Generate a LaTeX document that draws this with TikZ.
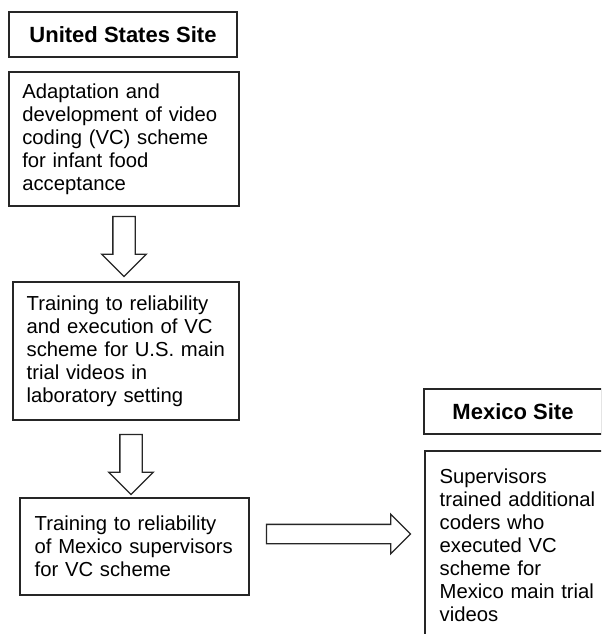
\documentclass[tikz,border=0pt]{standalone}
\usepackage{fontspec}
\setmainfont{Liberation Sans}
\usetikzlibrary{calc,shapes.arrows,positioning}
\frenchspacing

\begin{document}
\begin{tikzpicture}[
    x=0.75pt, y=-0.75pt,
    box/.style={draw=black!85, line width=1.2pt, align=left, inner xsep=10.25pt, inner ysep=0pt,
                font=\fontsize{15.2pt}{17.2pt}\selectfont},
    sitebox/.style={draw=black!85, line width=1.2pt, align=center, minimum height=33.75pt,
                font=\fontsize{16.5pt}{19pt}\selectfont\bfseries},
    downarr/.style={single arrow, draw=black!85, line width=1pt, fill=white, rotate=-90, anchor=tail,
                inner sep=0pt, inner ysep=7.875pt, single arrow head extend=8.25pt, minimum height=45pt},
    sidearr/.style={single arrow, draw=black!85, line width=1pt, fill=white, anchor=tail,
                inner sep=0pt, inner ysep=6.75pt, single arrow head extend=7.5pt, minimum height=108pt}
]
\useasboundingbox[fill=white] (0,0) rectangle (601,634);
\clip (0,0) rectangle (601,634);

% United States site
\node[sitebox, minimum width=171pt] (ussite) at (123,34.5) {United States Site};
\node[box, inner xsep=10pt, text width=152.5pt, minimum width=172.5pt, minimum height=100.5pt] (adapt) at (124,139)
    {Adaptation and\\development of video\\coding (VC) scheme\\for infant food\\acceptance};
\node[box, text width=149pt, minimum width=169.5pt, minimum height=103.5pt] (train) at (126,351)
    {Training to reliability\\and execution of VC\\scheme for U.S. main\\trial videos in\\laboratory setting};
\node[box, inner xsep=11pt, text width=149.75pt, minimum width=171.75pt, minimum height=72.75pt] (super) at (134.5,546.5)
    {Training to reliability\\of Mexico supervisors\\for VC scheme};

% Mexico site
\node[sitebox, minimum width=133.5pt] (mxsite) at (513,411.5) {Mexico Site};
\node[box, inner xsep=11pt, text width=118.25pt, minimum width=140.25pt, minimum height=141pt] (coders) at (518.5,545)
    {Supervisors\\trained additional\\coders who\\executed VC\\scheme for\\Mexico main trial\\videos};

% block arrows
\node[downarr] (a1) at ($(adapt.south)+(0,9)$) {};
\node[downarr] (a2) at ($(train.south)+(5,13)$) {};
\node[sidearr] (a3) at ($(super.east)+(16,-12.5)$) {};
\end{tikzpicture}
\end{document}
